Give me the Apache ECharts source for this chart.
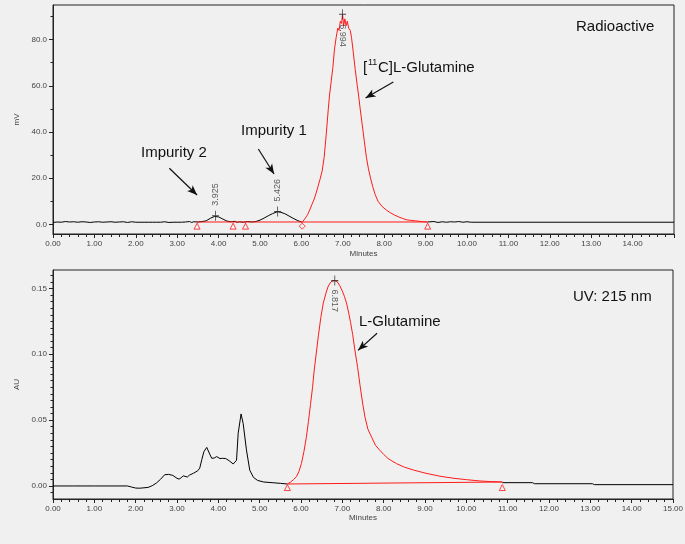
<!DOCTYPE html>
<html><head><meta charset="utf-8">
<script src="https://cdn.jsdelivr.net/npm/echarts@6/dist/echarts.min.js"></script>
<style>html,body{margin:0;padding:0;background:#f0f0f0;}#c{width:685px;height:544px;}</style>
</head><body><div id="c"></div>
<script>
// ---------- tick labels ----------
const xTicks = [0,1,2,3,4,5,6,7,8,9,10,11,12,13,14,15];
const topYTicks = [0,20,40,60,80];
const topYMinor = [10,30,50,70,90];
const botYTicks = [0,0.05,0.10,0.15];
const botYMinor = [-0.005,0.005,0.01,0.015,0.02,0.025,0.03,0.035,0.04,0.045,0.055,0.06,0.065,0.07,0.075,0.08,0.085,0.09,0.095,0.105,0.11,0.115,0.12,0.125,0.13,0.135,0.14,0.145,0.155,0.16];

// ---------- Radioactive trace (mV vs minutes) ----------
const radioBlackA = [[0,0.8],[0.1,1.0],[0.2,0.9],[0.3,1.2],[0.4,1.0],[0.5,1.1],[0.6,0.9],[0.7,1.1],[0.8,1.0],[0.9,0.8],[1.0,1.0],[1.1,1.1],[1.2,0.9],[1.3,1.0],[1.4,1.1],[1.5,0.9],[1.6,1.0],[1.7,1.1],[1.8,0.8],[1.9,1.1],[2.0,0.9],[2.1,0.9],[2.2,0.9],[2.3,0.9],[2.4,0.9],[2.5,0.9],[2.6,0.9],[2.7,1.1],[2.8,0.8],[2.9,0.9],[3.0,0.9],[3.1,0.9],[3.2,1.0],[3.3,1.2],[3.35,0.8],[3.4,1.1],[3.5,1.0],[3.6,1.2],[3.7,1.5],[3.8,2.6],[3.9,3.4],[3.925,3.7],[4.0,3.2],[4.1,2.3],[4.2,1.4],[4.3,1.1],[4.4,1.3],[4.45,0.8],[4.5,1.1],[4.6,0.9],[4.7,1.2],[4.8,1.0],[4.9,1.2],[5.0,1.8],[5.1,2.7],[5.2,3.7],[5.3,4.6],[5.426,5.5],[5.5,5.2],[5.6,4.6],[5.7,3.6],[5.8,2.6],[5.9,1.7],[6.0,1.0],[6.02,0.9]];
const radioBlackB = [[9.05,1.0],[9.2,1.2],[9.3,0.8],[9.4,1.1],[9.5,0.9],[9.6,1.1],[9.7,1.0],[9.8,1.2],[9.9,0.9],[10.0,1.1],[10.1,0.9],[15,0.9]];
const radioPeak = [[6.02,0.9],[6.05,1.5],[6.1,2.8],[6.15,4.2],[6.2,6.2],[6.25,8.4],[6.3,10.5],[6.35,13.2],[6.4,16.3],[6.45,19.5],[6.5,23],[6.55,29],[6.6,39],[6.65,50],[6.68,56],[6.72,62],[6.76,68],[6.8,76],[6.84,81],[6.88,85],[6.91,84],[6.94,88],[6.97,87],[6.994,91],[7.02,86],[7.05,89],[7.08,86],[7.11,88],[7.14,85],[7.18,84],[7.21,81],[7.25,75],[7.3,67],[7.35,60],[7.38,56],[7.42,50],[7.47,43],[7.52,36],[7.57,29],[7.62,24],[7.67,20],[7.72,16.5],[7.78,13],[7.85,10],[7.95,7.7],[8.05,6.2],[8.15,5],[8.25,4],[8.35,3.2],[8.45,2.5],[8.55,1.9],[8.65,1.7],[8.75,1.5],[8.85,1.3],[8.95,1.1],[9.05,1.0]];
const radioBaseline = [[3.48,1.0],[9.05,1.0]];
const radioTriangles = [[3.48,-0.8],[4.35,-0.8],[4.65,-0.8],[9.05,-0.8]];
const radioDiamonds = [[6.02,-0.8]];
const radioApexUp = [[3.925,3.7],[5.426,5.5]];
const radioApexDown = [[6.994,91]];

// ---------- UV trace (AU vs minutes) ----------
const uvBlackA = [[0,0],[0.5,0],[1.0,0],[1.5,0],[1.8,0],[1.9,-0.0008],[2.0,-0.0016],[2.1,-0.0017],[2.2,-0.0014],[2.3,-0.0011],[2.4,0.0002],[2.5,0.0022],[2.6,0.005],[2.7,0.0085],[2.8,0.0088],[2.9,0.008],[3.0,0.0058],[3.05,0.0052],[3.1,0.0062],[3.15,0.0077],[3.25,0.0068],[3.3,0.0082],[3.4,0.0097],[3.5,0.0115],[3.55,0.0135],[3.6,0.02],[3.65,0.026],[3.72,0.0293],[3.78,0.025],[3.84,0.021],[3.9,0.0212],[3.96,0.0223],[4.04,0.0208],[4.1,0.021],[4.18,0.0208],[4.26,0.0192],[4.3,0.0205],[4.36,0.0167],[4.44,0.0195],[4.48,0.04],[4.55,0.0547],[4.6,0.0476],[4.68,0.0274],[4.76,0.012],[4.85,0.0065],[4.95,0.0042],[5.1,0.003],[5.3,0.0025],[5.5,0.002],[5.67,0.0015]];
const uvBlackB = [[10.87,0.0025],[11.6,0.0025],[11.65,0.0017],[13.05,0.0017],[13.1,0.001],[15,0.001]];
const uvPeak = [[5.67,0.0015],[5.75,0.003],[5.82,0.0048],[5.89,0.0071],[5.95,0.011],[6.01,0.017],[6.07,0.026],[6.13,0.037],[6.18,0.049],[6.23,0.062],[6.28,0.075],[6.32,0.088],[6.37,0.101],[6.42,0.114],[6.48,0.128],[6.54,0.139],[6.6,0.146],[6.65,0.151],[6.7,0.154],[6.75,0.1555],[6.817,0.156],[6.88,0.155],[6.94,0.152],[7.0,0.148],[7.05,0.144],[7.1,0.139],[7.15,0.132],[7.2,0.124],[7.25,0.115],[7.3,0.104],[7.37,0.09],[7.43,0.076],[7.49,0.063],[7.55,0.052],[7.62,0.043],[7.71,0.037],[7.8,0.031],[7.91,0.027],[8.0,0.024],[8.1,0.021],[8.2,0.019],[8.31,0.017],[8.5,0.0143],[8.72,0.0121],[9.0,0.0098],[9.36,0.0074],[9.7,0.0058],[10.0,0.0048],[10.33,0.0038],[10.6,0.0033],[10.87,0.003]];
const uvBaseline = [[5.67,0.0015],[10.87,0.003]];
const uvTriangles = [[5.67,-0.0012],[10.87,-0.0012]];
const uvApexDown = [[6.817,0.156]];

// ---------- annotation arrows (data coordinates: tail -> head) ----------
const radioArrows = [[[2.81,24.3],[3.48,12.7]],[[4.96,32.6],[5.34,21.8]],[[8.22,61.6],[7.55,54.7]]];
const uvArrows = [[[7.84,0.116],[7.38,0.103]]];

const RED = '#ff1a1a';
const tickFont = {fontFamily:'Liberation Sans', fontSize:8, color:'#444'};
const crossPath = 'path://M5,0L5,12M1,6L9,6';

function xAxisFor(gi, showMax, gap){
  return {type:'value', gridIndex:gi, min:0, max:15, interval:1,
    axisLine:{onZero:false, lineStyle:{color:'#222'}},
    axisTick:{length:4, lineStyle:{color:'#222'}},
    minorTick:{show:true, splitNumber:5, length:3, lineStyle:{color:'#222'}},
    splitLine:{show:false}, minorSplitLine:{show:false},
    axisLabel:Object.assign({margin:6, showMaxLabel:showMax, formatter:v=>v.toFixed(2)}, tickFont),
    name:'Minutes', nameLocation:'middle', nameGap:gap,
    nameTextStyle:{fontFamily:'Liberation Sans', fontSize:8, color:'#444'}};
}
function yAxisMain(gi, min, max, ticks, dec, name){
  return {type:'value', gridIndex:gi, min:min, max:max, position:'left',
    axisLine:{show:true, onZero:false, lineStyle:{color:'#222'}},
    axisTick:{show:true, length:4, customValues:ticks, lineStyle:{color:'#222'}},
    axisLabel:Object.assign({margin:6, customValues:ticks, formatter:v=>v.toFixed(dec)}, tickFont),
    splitLine:{show:false},
    name:name, nameLocation:'middle', nameGap:24,
    nameTextStyle:{fontFamily:'Liberation Sans', fontSize:8, color:'#444'}};
}
function yAxisMinor(gi, min, max, ticks){
  return {type:'value', gridIndex:gi, min:min, max:max, position:'left',
    axisLine:{show:false}, splitLine:{show:false},
    axisTick:{show:true, length:2.5, customValues:ticks, lineStyle:{color:'#222'}},
    axisLabel:{show:false, customValues:ticks}};
}
function line(data, color, xi, yi, extra){
  return Object.assign({type:'line', data:data, xAxisIndex:xi, yAxisIndex:yi, symbol:'none',
    lineStyle:{color:color, width:1}, itemStyle:{color:color}, silent:true, z:3}, extra||{});
}
function marks(data, sym, xi, yi){
  return {type:'scatter', data:data, xAxisIndex:xi, yAxisIndex:yi, symbol:sym, symbolSize:6,
    itemStyle:{color:'#f0f0f0', borderColor:RED, borderWidth:1}, silent:true, z:5};
}
function apex(data, xi, yi, up, dist){
  return {type:'scatter', data:data, xAxisIndex:xi, yAxisIndex:yi, symbol:crossPath, symbolSize:[7,10],
    itemStyle:{color:'none', borderColor:'#222', borderWidth:1}, silent:true, z:6,
    label:{show:true, position: up?'top':'bottom', distance:dist, rotate: up?90:-90, align:'left', verticalAlign:'middle',
      formatter:p=>p.value[0].toFixed(3), fontFamily:'Liberation Sans', fontSize:9, color:'#333'}};
}
function arrowLines(arr){
  return {silent:true, symbol:['none','arrow'], symbolSize:[6,10], precision:4,
    lineStyle:{color:'#111', width:1.2, type:'solid'}, label:{show:false}, emphasis:{disabled:true},
    data: arr.map(a=>[{coord:a[0]},{coord:a[1]}])};
}

const annoFont = '15px "Liberation Sans"';
function txt(text, x, y, size){
  return {type:'text', x:x, y:y, silent:true, z:10,
    style:{text:text, font:(size||15)+'px "Liberation Sans"', fill:'#111', align:'left', verticalAlign:'middle'}};
}

const chart = echarts.init(document.getElementById('c'), null, {renderer:'canvas'});
chart.setOption({
  animation:false,
  backgroundColor:'#f0f0f0',
  grid:[
    {left:53, top:5, width:621, height:229, show:true, borderColor:'#222', borderWidth:1, backgroundColor:'transparent', outerBoundsMode:'none'},
    {left:53, top:270, width:620, height:229, show:true, borderColor:'#222', borderWidth:1, backgroundColor:'transparent', outerBoundsMode:'none'}
  ],
  xAxis:[xAxisFor(0,false,16), xAxisFor(1,true,15)],
  yAxis:[
    yAxisMain(0,-4.2,95,topYTicks,1,'mV'),
    yAxisMinor(0,-4.2,95,topYMinor),
    yAxisMain(1,-0.0099,0.164,botYTicks,2,'AU'),
    yAxisMinor(1,-0.0099,0.164,botYMinor)
  ],
  series:[
    line(radioBlackA,'#000',0,0,{markLine:arrowLines(radioArrows)}),
    line(radioBlackB,'#000',0,0),
    line(radioBaseline,RED,0,0),
    line(radioPeak,RED,0,0),
    marks(radioTriangles,'triangle',0,0),
    marks(radioDiamonds,'diamond',0,0),
    apex(radioApexUp,0,0,true,2),
    apex(radioApexDown,0,0,false,2),
    line(uvBlackA,'#000',1,2,{markLine:arrowLines(uvArrows)}),
    line(uvBlackB,'#000',1,2),
    line(uvBaseline,RED,1,2),
    line(uvPeak,RED,1,2),
    marks(uvTriangles,'triangle',1,2),
    apex(uvApexDown,1,2,false,1)
  ],
  graphic:[
    txt('Radioactive',576,27),
    txt('Impurity 2',141,153),
    txt('Impurity 1',241,131),
    txt('[',363,68),
    txt('11',368,63,9),
    txt('C]L-Glutamine',378,68),
    txt('UV: 215 nm',573,297),
    txt('L-Glutamine',359,322)
  ]
});
</script>
</body></html>
